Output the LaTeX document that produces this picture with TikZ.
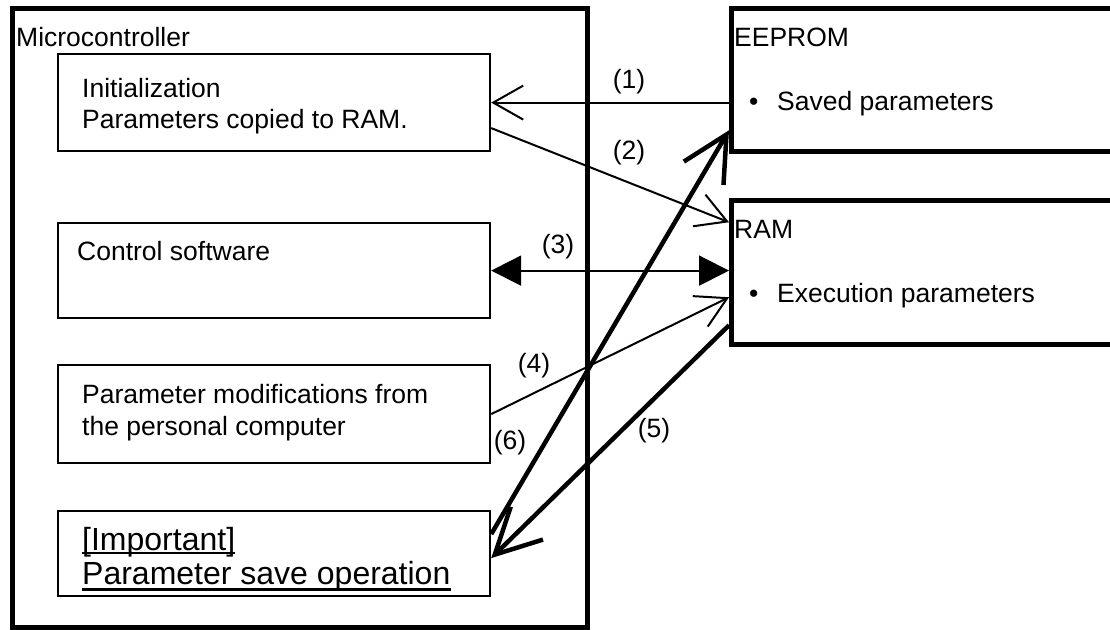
\documentclass[tikz,border=0pt]{standalone}
\usepackage{fontspec}
\setmainfont{Liberation Sans}
\usetikzlibrary{arrows.meta}
\begin{document}
\begin{tikzpicture}[x=1pt,y=-1pt,
  box/.style={draw, line width=2.2pt, inner sep=0pt, anchor=north west},
  bigbox/.style={draw, line width=4.5pt, inner sep=0pt, anchor=north west},
  txt/.style={inner sep=0pt, anchor=base west, font=\fontsize{26.5}{31}\selectfont},
  imp/.style={inner sep=0pt, anchor=base west, font=\fontsize{32}{38}\selectfont},
  lbl/.style={inner sep=0pt, anchor=center, font=\fontsize{26.5}{31}\selectfont},
  thinarrow/.style={line width=2pt, -{Straight Barb[length=30pt,width=34pt]}},
  thickarrow/.style={line width=4.5pt, -{Straight Barb[length=45pt,width=46pt]}},
  tri/.style={line width=2pt, {Triangle[length=30pt,width=30pt]}-{Triangle[length=30pt,width=30pt]}}
]
\clip (0,0) rectangle (1110,629);
\fill[white] (0,0) rectangle (1110,629);
% microcontroller
\node[bigbox, minimum width=575pt, minimum height=619pt] (mc) at (10,6) {};
\node[txt] (tmc) at (16,46) {Microcontroller};
\node[box, minimum width=432pt, minimum height=97pt] (b1) at (57,53) {};
\node[box, minimum width=432pt, minimum height=95pt] (b2) at (57,222) {};
\node[box, minimum width=432pt, minimum height=98pt] (b3) at (57,364) {};
\node[box, minimum width=432pt, minimum height=85pt] (b4) at (57,510) {};
\node[txt] (t1a) at (82,97) {Initialization};
\node[txt] (t1b) at (82,128) {Parameters copied to RAM.};
\node[txt] (t2) at (77,260) {Control software};
\node[txt] (t3a) at (82,403) {Parameter modifications from};
\node[txt] (t3b) at (82,435) {the personal computer};
\node[imp] (t4a) at (82,550) {[Important]};
\node[imp] (t4b) at (82,584) {Parameter save operation};
\draw[line width=2pt] ([yshift=-3pt]t4a.base west) -- ([yshift=-3pt]t4a.base east);
\draw[line width=3pt] ([yshift=-5pt]t4b.base west) -- ([yshift=-5pt]t4b.base east);
% memories
\node[bigbox, minimum width=500pt, minimum height=143pt] (ee) at (729,6) {};
\node[bigbox, minimum width=500pt, minimum height=144pt] (ram) at (729,198) {};
\node[txt] (tee) at (734,46) {EEPROM};
\node[txt] (tsp) at (749,110) {\makebox[28pt][l]{•}Saved parameters};
\node[txt] (tram) at (734,238) {RAM};
\node[txt] (tep) at (749,302) {\makebox[28pt][l]{•}Execution parameters};
% connectors
\draw[thinarrow] (ee.west |- b1.east) -- (b1.east);
\draw[thinarrow] ([yshift=-25.5pt]b1.east) -- ([yshift=50pt]ram.west);
\draw[tri] (b2.east) -- (b2.east -| ram.west);
\draw[thinarrow] (b3.east) -- ([yshift=-25pt]ram.west);
\draw[thickarrow] ([yshift=-53pt]ram.west) -- ([yshift=-4.5pt]b4.east);
\draw[thickarrow] ([yshift=19.5pt]b4.east) -- ([yshift=-50.5pt]ee.west);
% labels
\node[lbl] (l1) at (629,82) {(1)};
\node[lbl] (l2) at (629,153) {(2)};
\node[lbl] (l3) at (558,247) {(3)};
\node[lbl] (l4) at (534,366) {(4)};
\node[lbl] (l5) at (654,431) {(5)};
\node[lbl] (l6) at (510,443) {(6)};
\end{tikzpicture}
\end{document}
